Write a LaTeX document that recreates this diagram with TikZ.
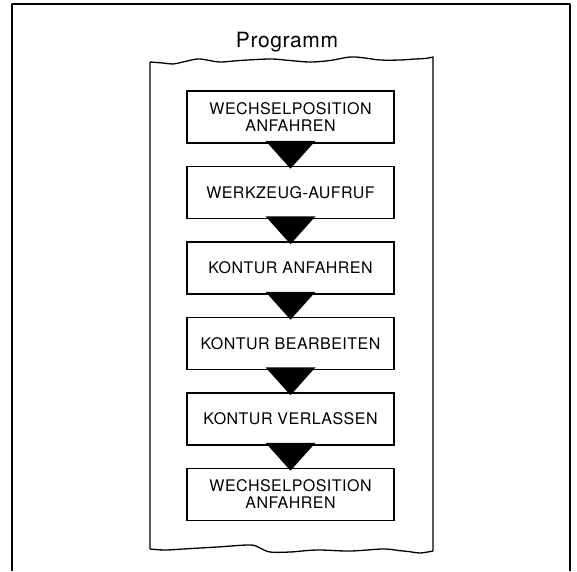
\documentclass[tikz,border=0pt]{standalone}
\usepackage{fontspec}
\setmainfont{TeX Gyre Heros}
\begin{document}
\begin{tikzpicture}[x=1pt,y=-1pt,
  stepbox/.style={draw,line width=1.6pt,minimum width=207pt,minimum height=52pt,
    inner sep=0pt,align=center,
    font=\fontsize{16}{17}\selectfont\addfontfeatures{LetterSpace=3}},
  flow/.style={fill=black},
  frameline/.style={line width=1.3pt,line join=round},
  sheetline/.style={line width=1.3pt,line join=round}]
\useasboundingbox (0,0) rectangle (577,571);

% outer frame, open at the bottom
\draw[frameline] (12,571) -- (12,4) -- (570,4) -- (570,571);

% heading
\node[anchor=base,inner sep=0pt,
  font=\fontsize{21}{24}\selectfont\addfontfeatures{LetterSpace=3}]
  (title) at (287,47) {Programm};

% program sheet with torn top and bottom edges
\draw[sheetline] (150,549) -- (150,62)
  plot[smooth,tension=0.6] coordinates {(150,62) (163,63) (173,64) (183,62) (197,59) (207,60)
    (220,62) (240,60.5) (270,59) (290,60.5) (310,62) (330,60.5) (350,57) (365,58)
    (380,60) (400,60) (415,59) (425,58.5) (433,57)}
  -- (433,551)
  plot[smooth,tension=0.6] coordinates {(433,551) (420,553) (410,551.7) (400,550.7) (383,549)
    (350,551) (317,550) (290,552) (270,552) (260,548) (250,545) (217,547)
    (183,549) (165,550) (150,549)};

% program steps
\node[stepbox] (s1) at (290.5,117)   {WECHSELPOSITION\\ANFAHREN};
\node[stepbox] (s2) at (290.5,192.5) {WERKZEUG-AUFRUF};
\node[stepbox] (s3) at (290.5,268)   {KONTUR ANFAHREN};
\node[stepbox] (s4) at (290.5,343.5) {KONTUR BEARBEITEN};
\node[stepbox] (s5) at (290.5,419)   {KONTUR VERLASSEN};
\node[stepbox] (s6) at (290.5,494.5) {WECHSELPOSITION\\ANFAHREN};

% flow arrows between consecutive steps
\foreach \a/\b in {s1/s2,s2/s3,s3/s4,s4/s5,s5/s6}{
  \fill[flow] ([xshift=-25pt,yshift=3pt]\a.south) -- ([xshift=25pt,yshift=3pt]\a.south)
    -- ([yshift=-3pt]\b.north) -- cycle;
}
\end{tikzpicture}
\end{document}
